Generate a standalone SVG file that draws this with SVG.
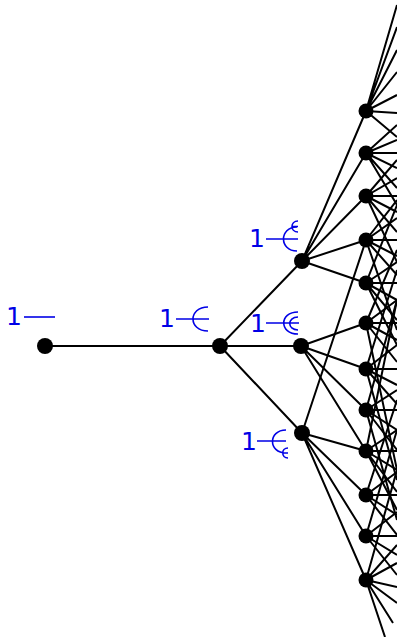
<svg xmlns="http://www.w3.org/2000/svg" width="401" height="637" viewBox="0 0 401 637">
<style>
.e{stroke:#000;stroke-width:2;fill:none}
.n{fill:#000}
.lb{font-family:"DejaVu Sans",sans-serif;font-size:25px;fill:#0000e6}
.ic{stroke:#0000e6;stroke-width:1.6;fill:none}
</style>
<defs><clipPath id="cp"><rect x="0" y="0" width="397" height="637"/></clipPath></defs>
<rect width="401" height="637" fill="#fff"/>
<g id="connectors" class="e">
<path d="M45,346H220M220,346L302,261M220,346H301M220,346L302,433"/>
<path d="M302,261L366,111M302,261L366,153M302,261L366,196M302,261L366,240M302,261L366,283"/>
<path d="M301,346L366,323M301,346L366,369M301,346L366,410M301,346L366,451"/>
<path d="M302,433L366,451M302,433L366,495M302,433L366,536M302,433L366,580M302,433L366,240"/>
<g clip-path="url(#cp)">
<path d="M366,111L397,5M366,111L397,27M366,111L397,50M366,111L397,72M366,111L397,95M366,111L397,113M366,111L397,137"/>
<path d="M366,153L397,125M366,153L397,140M366,153L397,153M366,153L397,168M366,153L397,188M366,153L397,205"/>
<path d="M366,196L397,160M366,196L397,178M366,196L397,196M366,196L397,212M366,196L397,232M366,196L397,262"/>
<path d="M366,240L397,200M366,240L397,218M366,240L397,240M366,240L397,256M366,240L397,275M366,240L397,330"/>
<path d="M366,283L397,205M366,283L397,262M366,283L397,283M366,283L397,300M366,283L397,320M366,283L397,345"/>
<path d="M366,323L397,250M366,323L397,300M366,323L397,323M366,323L397,340M366,323L397,362M366,323L397,470"/>
<path d="M366,369L397,270M366,369L397,345M366,369L397,369M366,369L397,385M366,369L397,404M366,369L397,480"/>
<path d="M366,410L397,300M366,410L397,390M366,410L397,410M366,410L397,430M366,410L397,450M366,410L397,520"/>
<path d="M366,451L397,300M366,451L397,430M366,451L397,451M366,451L397,470M366,451L397,492M366,451L397,510"/>
<path d="M366,495L397,400M366,495L397,472M366,495L397,495M366,495L397,515M366,495L397,535"/>
<path d="M366,536L397,430M366,536L397,512M366,536L397,536M366,536L397,555M366,536L397,575"/>
<path d="M366,580L397,470M366,580L397,545M366,580L397,563M366,580L397,587M366,580L397,603M366,580L393,623M366,580L385,637"/>
</g>
</g>
<g id="n0"><circle class="n" cx="45" cy="346" r="8"/><text class="lb" x="6" y="325">1</text><path class="ic" d="M24,317H55"/></g>
<g id="n1"><circle class="n" cx="220" cy="346" r="8"/><text class="lb" x="159" y="327">1</text><path class="ic" d="M176,319H209M208,307C188,307 188,331 208,331"/></g>
<g id="nA"><circle class="n" cx="302" cy="261" r="8"/><text class="lb" x="249" y="247">1</text><path class="ic" d="M266,239H298M297,227C279,227 279,251 297,251M298,221C290,221 290,232 298,232M293,226.5H298"/></g>
<g id="nB"><circle class="n" cx="301" cy="346" r="8"/><text class="lb" x="250" y="332">1</text><path class="ic" d="M266,323H299M298,312C279,312 279,334 298,334M298,317C287,317 287,330 298,330"/></g>
<g id="nC"><circle class="n" cx="302" cy="433" r="8"/><text class="lb" x="241" y="450">1</text><path class="ic" d="M257,441H286M286,430C268,430 268,453 286,453M288,448C281,448 281,458 288,458M283,453H288"/></g>
<g id="l3">
<circle class="n" cx="366" cy="111" r="7.5"/>
<circle class="n" cx="366" cy="153" r="7.5"/>
<circle class="n" cx="366" cy="196" r="7.5"/>
<circle class="n" cx="366" cy="240" r="7.5"/>
<circle class="n" cx="366" cy="283" r="7.5"/>
<circle class="n" cx="366" cy="323" r="7.5"/>
<circle class="n" cx="366" cy="369" r="7.5"/>
<circle class="n" cx="366" cy="410" r="7.5"/>
<circle class="n" cx="366" cy="451" r="7.5"/>
<circle class="n" cx="366" cy="495" r="7.5"/>
<circle class="n" cx="366" cy="536" r="7.5"/>
<circle class="n" cx="366" cy="580" r="7.5"/>
</g>
</svg>
